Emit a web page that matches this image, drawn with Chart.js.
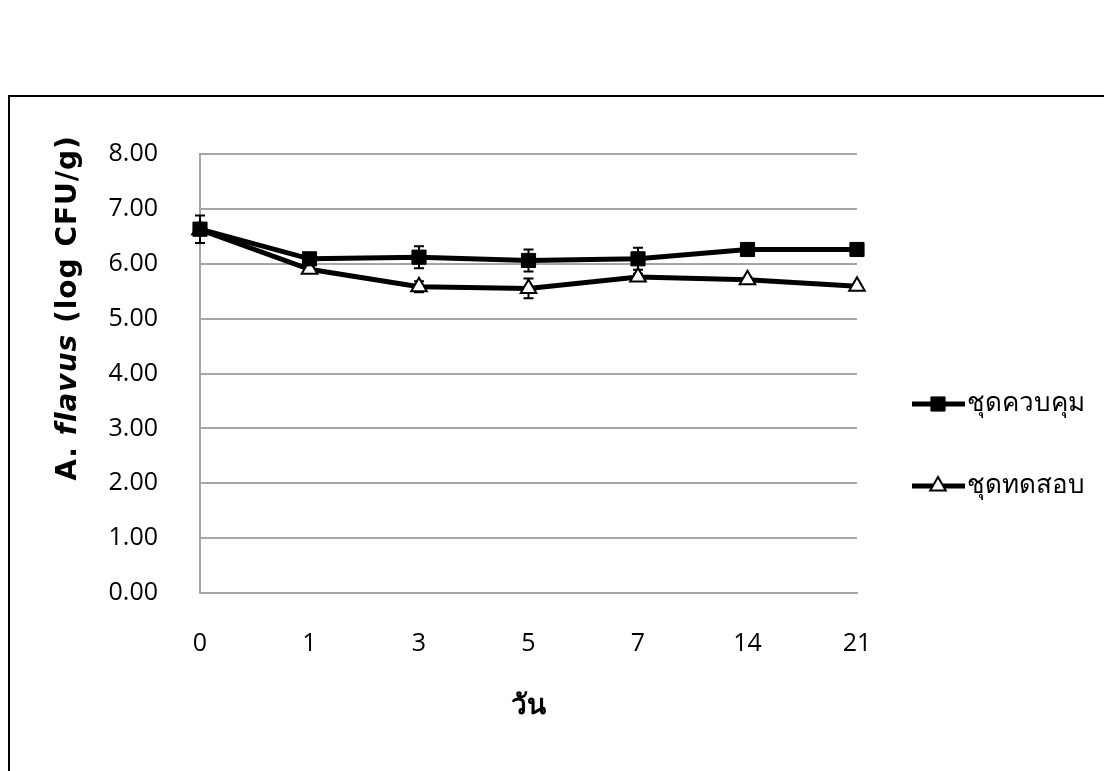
<!DOCTYPE html>
<html>
<head>
<meta charset="utf-8">
<script src="https://cdn.jsdelivr.net/npm/chart.js@4"></script>
<style>
  html, body { margin: 0; padding: 0; background: #fff; overflow: hidden; }
  #frame {
    position: absolute; left: 8px; top: 95px; width: 1200px; height: 800px;
    border-left: 2px solid #000; border-top: 2px solid #000;
  }
  #wrap { position: absolute; left: 0; top: 0; width: 1104px; height: 771px; }
</style>
</head>
<body>
<div id="frame"></div>
<div id="wrap"><canvas id="grafica"></canvas></div>
<script>
// datos
const dias = ['0', '1', '3', '5', '7', '14', '21'];
const control = [6.63, 6.09, 6.12, 6.06, 6.09, 6.26, 6.26];
const controlErr = [0.25, 0.05, 0.20, 0.20, 0.20, 0.05, 0.05];
const prueba = [6.62, 5.90, 5.58, 5.55, 5.76, 5.71, 5.59];
const pruebaErr = [0.10, 0.05, 0.10, 0.18, 0.06, 0.04, 0.04];
const nombres = ['ชุดควบคุม', 'ชุดทดสอบ'];
const ejeX = 'วัน';
const ejeYRecto = 'A. ';
const ejeYItalic = 'flavus';
const ejeYResto = ' (log CFU/g)';

const FUENTE = "'Open Sans', 'Noto Sans', 'DejaVu Sans', sans-serif";
const FUENTE_TIT = "'DejaVu Sans', sans-serif";

// ==============================
// PLUGIN: BARRAS DE ERROR
// ==============================
const errorBars = {
    id: 'errorBars',
    beforeDatasetsDraw(chart) {
        const ctx = chart.ctx;
        const y = chart.scales.y;
        ctx.save();
        ctx.strokeStyle = '#000';
        ctx.lineWidth = 2;
        chart.data.datasets.forEach((ds, i) => {
            const meta = chart.getDatasetMeta(i);
            meta.data.forEach((pt, j) => {
                const e = ds.errores[j];
                const top = y.getPixelForValue(ds.data[j] + e);
                const bot = y.getPixelForValue(ds.data[j] - e);
                ctx.beginPath();
                ctx.moveTo(pt.x, top); ctx.lineTo(pt.x, bot);
                ctx.moveTo(pt.x - 5, top); ctx.lineTo(pt.x + 5, top);
                ctx.moveTo(pt.x - 5, bot); ctx.lineTo(pt.x + 5, bot);
                ctx.stroke();
            });
        });
        ctx.restore();
    }
};

// ==============================
// PLUGIN: TITULOS Y LEYENDA
// ==============================
const extras = {
    id: 'extras',
    afterDraw(chart) {
        const ctx = chart.ctx;
        const area = chart.chartArea;
        ctx.save();

        // titulo eje Y (A. recto, flavus en cursiva)
        ctx.translate(69, 308);
        ctx.rotate(-Math.PI / 2);
        ctx.fillStyle = '#000';
        ctx.textBaseline = 'middle';
        ctx.letterSpacing = '1px';
        const fR = 'bold 28px ' + FUENTE_TIT;
        const fI = 'italic bold 28px ' + FUENTE_TIT;
        const partes = [[ejeYRecto, fR], [ejeYItalic, fI], [ejeYResto, fR]];
        let total = 0;
        partes.forEach(p => { ctx.font = p[1]; total += ctx.measureText(p[0]).width; });
        let x0 = -total / 2;
        partes.forEach(p => {
            ctx.font = p[1];
            ctx.fillText(p[0], x0, 0);
            x0 += ctx.measureText(p[0]).width;
        });
        ctx.restore();

        // titulo eje X
        ctx.save();
        ctx.font = 'bold 28px ' + FUENTE;
        ctx.fillStyle = '#000';
        ctx.textAlign = 'center';
        ctx.textBaseline = 'middle';
        ctx.fillText(ejeX, (area.left + area.right) / 2, 706);
        ctx.restore();

        // leyenda
        ctx.save();
        const lx = area.right + 55;
        chart.data.datasets.forEach((ds, i) => {
            const ly = 404 + i * 82;
            ctx.strokeStyle = '#000';
            ctx.lineWidth = 5;
            ctx.beginPath();
            ctx.moveTo(lx, ly); ctx.lineTo(lx + 53, ly);
            ctx.stroke();
            ctx.fillStyle = ds.pointBackgroundColor;
            ctx.strokeStyle = '#000';
            ctx.lineWidth = ds.pointBorderWidth;
            Chart.helpers.drawPoint(ctx, {
                pointStyle: ds.pointStyle,
                radius: ds.pointRadius,
                borderWidth: ds.pointBorderWidth
            }, lx + 26, ly);
            ctx.fillStyle = '#000';
            ctx.font = '26px ' + FUENTE;
            ctx.textBaseline = 'middle';
            ctx.fillText(ds.label, lx + 55, ly);
        });
        ctx.restore();
    }
};

new Chart(document.getElementById('grafica'), {
    type: 'line',
    data: {
        labels: dias,
        datasets: [
            {
                label: nombres[0],
                data: control,
                errores: controlErr,
                borderColor: '#000',
                borderWidth: 5,
                pointStyle: 'rect',
                pointRadius: 10,
                pointBorderWidth: 1,
                pointBackgroundColor: '#000',
                pointBorderColor: '#000',
                tension: 0
            },
            {
                label: nombres[1],
                data: prueba,
                errores: pruebaErr,
                borderColor: '#000',
                borderWidth: 5,
                pointStyle: 'triangle',
                pointRadius: 9,
                pointBorderWidth: 2,
                pointBackgroundColor: '#fff',
                pointBorderColor: '#000',
                tension: 0
            }
        ]
    },
    options: {
        responsive: true,
        maintainAspectRatio: false,
        animation: false,
        layout: { padding: { top: 154, right: 247, bottom: 0, left: 0 } },
        plugins: {
            legend: { display: false },
            tooltip: { enabled: false }
        },
        scales: {
            x: {
                offset: false,
                grid: { display: false, drawTicks: false },
                border: { color: '#a6a6a6', width: 2 },
                ticks: {
                    color: '#000',
                    font: { family: FUENTE, size: 25 },
                    padding: 36,
                    maxRotation: 0
                },
                afterFit(scale) { scale.height = 178; }
            },
            y: {
                min: 0,
                max: 8,
                grid: { color: '#a6a6a6', lineWidth: 2, drawTicks: false },
                border: { color: '#a6a6a6', width: 2 },
                ticks: {
                    stepSize: 1,
                    color: '#000',
                    font: { family: FUENTE, size: 25 },
                    padding: 42,
                    callback: v => Number(v).toFixed(2)
                },
                afterFit(scale) { scale.width = 200; }
            }
        }
    },
    plugins: [errorBars, extras]
});
</script>
</body>
</html>
